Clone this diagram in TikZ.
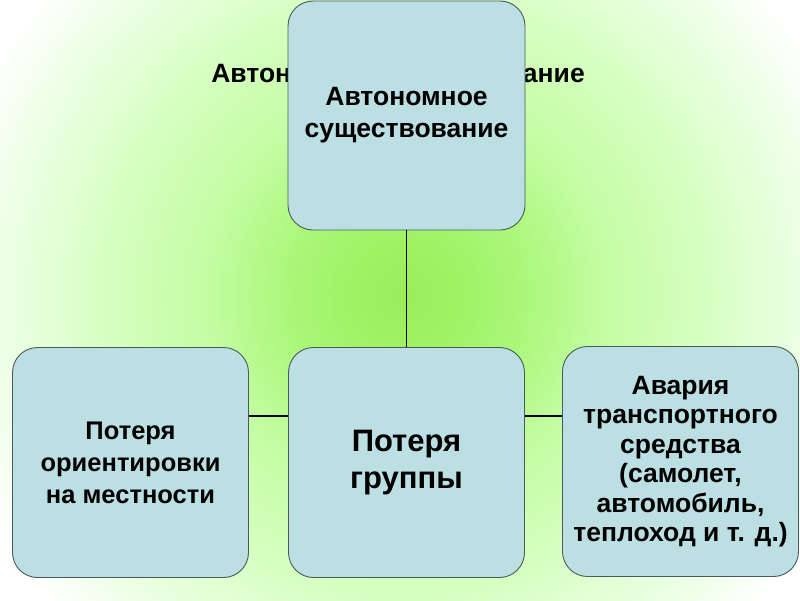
\documentclass[tikz,border=0pt]{standalone}
\usepackage{fontspec}
\setmainfont{Liberation Sans}
\usetikzlibrary{calc}
\pgfdeclareradialshading{bggreen}{\pgfpoint{0bp}{0bp}}{%
  rgb(0bp)=(0.61,0.93,0.36);
  rgb(60bp)=(0.63,0.95,0.40);
  rgb(120bp)=(0.67,0.97,0.48);
  rgb(200bp)=(0.77,0.99,0.64);
  rgb(300bp)=(0.84,1.00,0.76);
  rgb(400bp)=(0.93,1.00,0.90);
  rgb(470bp)=(1,1,1);
  rgb(520bp)=(1,1,1)}
\definecolor{boxfill}{HTML}{BBDFE2}
\definecolor{boxline}{HTML}{4A5A5A}
\tikzset{
  box/.style={draw=boxline, line width=0.9pt, fill=boxfill, rounded corners=25pt,
    minimum width=236pt, minimum height=230pt, align=center, inner sep=2pt,
    font=\bfseries},
  link/.style={draw=black, line width=1.6pt},
}
\begin{document}
\begin{tikzpicture}[x=1pt,y=-1pt]
\useasboundingbox (0,0) rectangle (800,600);
\begin{scope}
\clip (0,0) rectangle (800,600);
\fill[white] (0,0) rectangle (800,600);
\pgftext[at=\pgfpoint{405pt}{-295pt}]{\pgfuseshading{bggreen}}
\end{scope}
\node[font=\fontsize{26.5}{30}\selectfont\bfseries, anchor=base] (title) at (398,82) {Автономное существование};
\coordinate (hy) at (0,416);
\node[box, minimum width=237pt, minimum height=229pt, font=\fontsize{26.5}{32}\selectfont\bfseries] (top) at (406.5,115.5) {Автономное\\существование};
\node[box, font=\fontsize{25.5}{32}\selectfont\bfseries] (left) at (130.5,462.5) {Потеря\\ориентировки\\на местности};
\node[box, font=\fontsize{31}{37}\selectfont\bfseries] (mid) at (406.5,462.5) {Потеря\\группы};
\node[box, font=\fontsize{26.5}{29.5}\selectfont\bfseries] (right) at (680.5,461.5) {Авария\\транспортного\\средства\\(самолет,\\автомобиль,\\теплоход и т. д.)};
\draw[link] (top.south) -- (mid.north);
\draw[link] (left.east |- hy) -- (mid.west |- hy);
\draw[link] (mid.east |- hy) -- (right.west |- hy);
\end{tikzpicture}
\end{document}
